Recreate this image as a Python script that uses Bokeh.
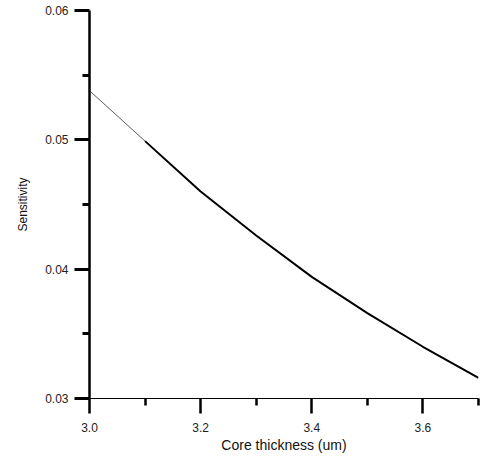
from bokeh.plotting import figure
from bokeh.models import FixedTicker, Range1d, PrintfTickFormatter
from bokeh.embed import file_html
from bokeh.resources import INLINE

# data
thickness = [3.0, 3.1, 3.2, 3.3, 3.4, 3.5, 3.6, 3.7]
sensitivity = [0.0538, 0.0499, 0.0460, 0.0426, 0.0394, 0.0366, 0.0340, 0.0316]

x_major = [3.0, 3.2, 3.4, 3.6]
x_minor = [3.1, 3.3, 3.5, 3.7]
y_major = [0.03, 0.04, 0.05, 0.06]
y_minor = [0.035, 0.045, 0.055]

FONT = "Liberation Sans"

p = figure(width=481, height=459, output_backend="svg", toolbar_location=None,
           x_range=Range1d(3.0, 3.7), y_range=Range1d(0.03, 0.06),
           min_border_left=89, min_border_right=3, min_border_top=10,
           min_border_bottom=61)
p.outline_line_color = None
p.grid.visible = False
p.background_fill_color = "white"
p.border_fill_color = "white"

# thin start segment then thicker curve
p.line(thickness[:2], sensitivity[:2], line_color="#333333", line_width=0.8)
p.line(thickness[1:], sensitivity[1:], line_color="black", line_width=2)

xa = p.xaxis[0]
xa.ticker = FixedTicker(ticks=x_major, minor_ticks=x_minor)
xa.formatter = PrintfTickFormatter(format="%.1f")
xa.axis_line_color = "black"
xa.axis_line_width = 1
xa.major_tick_in = 0
xa.major_tick_out = 15
xa.minor_tick_in = 0
xa.minor_tick_out = 7
xa.major_tick_line_width = 2.5
xa.minor_tick_line_width = 2.5
xa.major_tick_line_color = "black"
xa.minor_tick_line_color = "black"
xa.major_label_standoff = 9
xa.major_label_text_font = FONT
xa.major_label_text_font_size = "12px"
xa.major_label_text_color = "#222222"
xa.axis_label = "Core thickness (um)"
xa.axis_label_text_font = FONT
xa.axis_label_text_font_size = "14px"
xa.axis_label_text_font_style = "normal"
xa.axis_label_text_color = "#111111"
xa.axis_label_standoff = 2

ya = p.yaxis[0]
ya.ticker = FixedTicker(ticks=y_major, minor_ticks=y_minor)
ya.formatter = PrintfTickFormatter(format="%.2f")
ya.axis_line_color = "black"
ya.axis_line_width = 2.5
ya.major_tick_in = 0
ya.major_tick_out = 15
ya.minor_tick_in = 0
ya.minor_tick_out = 7
ya.major_tick_line_width = 3
ya.minor_tick_line_width = 3
ya.major_tick_line_color = "black"
ya.minor_tick_line_color = "black"
ya.major_label_standoff = 6
ya.major_label_text_font = FONT
ya.major_label_text_font_size = "12px"
ya.major_label_text_color = "#222222"
ya.axis_label = "Sensitivity"
ya.axis_label_text_font = FONT
ya.axis_label_text_font_size = "12px"
ya.axis_label_text_font_style = "normal"
ya.axis_label_text_color = "#111111"
ya.axis_label_standoff = 12

open("out.html", "w").write(file_html(p, INLINE))
